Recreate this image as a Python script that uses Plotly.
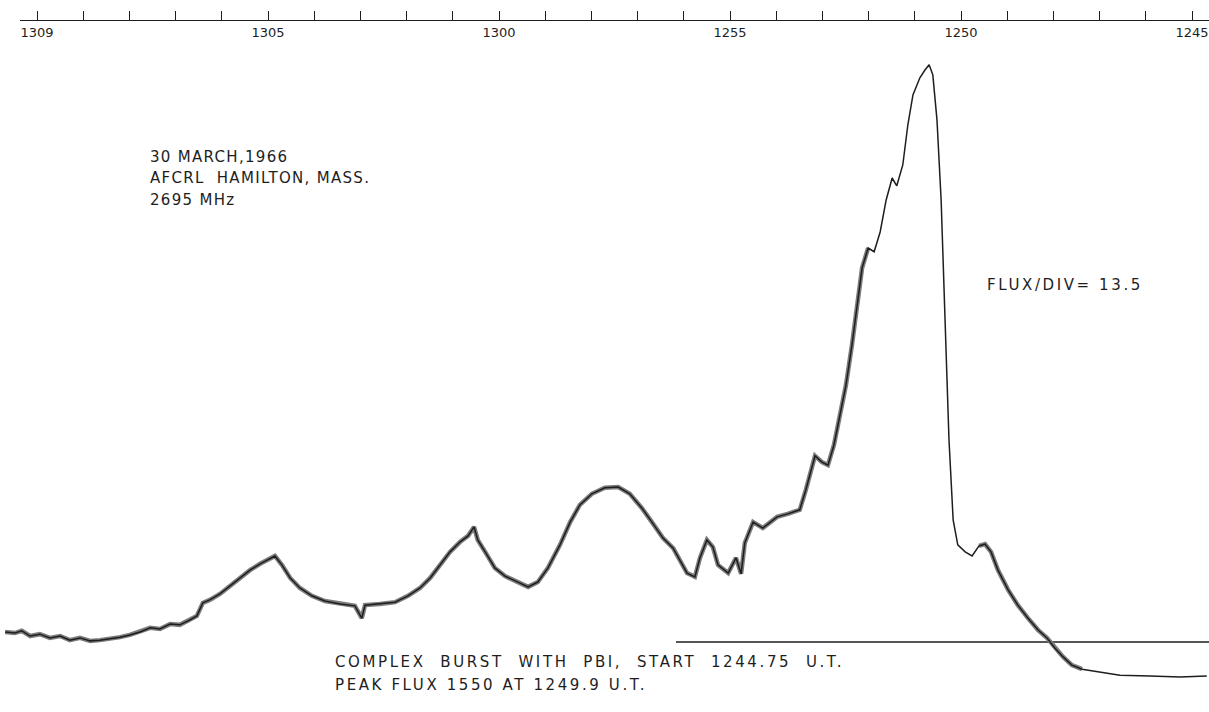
import plotly.graph_objects as go

W, H = 1209, 712

# ---- data (time in minutes after 12:00 UT as read on the chart scale, flux in s.f.u.) ----
time_min = [70.69, 70.48, 70.33, 70.15, 69.94, 69.72, 69.50, 69.29, 69.07, 68.85,
            68.64, 68.42, 68.20, 67.99, 67.77, 67.55, 67.34, 67.12, 66.91, 66.69,
            66.54, 66.41, 66.26, 66.04, 65.82, 65.61, 65.39, 65.17, 65.00, 64.85,
            64.70, 64.52, 64.31, 64.05, 63.77, 63.44, 63.12, 62.97, 62.90, 62.58,
            62.25, 61.97, 61.71, 61.49, 61.28, 61.06, 60.84, 60.67, 60.54, 60.46,
            60.30, 60.09, 59.87, 59.65, 59.37, 59.16, 58.94, 58.68, 58.46, 58.25,
            57.99, 57.71, 57.42, 57.17, 56.91, 56.69, 56.45, 56.23, 56.08, 55.93,
            55.76, 55.65, 55.50, 55.37, 55.26, 55.04, 54.87, 54.76, 54.68, 54.50,
            54.29, 53.98, 53.75, 53.49, 53.36, 53.25, 53.16, 53.01, 52.88, 52.75,
            52.62, 52.49, 52.36, 52.25, 52.14, 52.01, 51.88, 51.75, 51.62, 51.49,
            51.39, 51.26, 51.15, 51.04, 50.89, 50.78, 50.69, 50.61, 50.52, 50.43,
            50.35, 50.26, 50.17, 50.07, 49.91, 49.76, 49.61, 49.48, 49.35, 49.20,
            48.98, 48.77, 48.55, 48.33, 48.14, 47.97, 47.79, 47.60, 47.38, 46.99,
            46.56, 45.91, 45.26, 44.68]
flux = [27, 24, 30, 16, 21, 11, 16, 5, 11, 3,
        5, 8, 13, 19, 27, 38, 35, 48, 46, 59,
        70, 105, 113, 129, 150, 172, 193, 210, 220, 231,
        207, 172, 145, 124, 110, 102, 97, 64, 99, 102,
        107, 124, 145, 172, 207, 242, 269, 285, 309, 274,
        242, 199, 177, 164, 148, 161, 199, 261, 322, 368,
        398, 414, 416, 398, 360, 322, 279, 252, 220, 185,
        175, 226, 274, 255, 207, 185, 226, 183, 266, 322,
        306, 336, 344, 355, 408, 462, 500, 483, 475, 529,
        610, 690, 798, 905, 1005, 1058, 1048, 1101, 1187, 1246,
        1225, 1281, 1389, 1469, 1515, 1536, 1550, 1523, 1402, 1187,
        865, 543, 328, 261, 242, 231, 258, 263, 242, 193,
        140, 99, 64, 32, 11, -16, -40, -62, -73, -81,
        -89, -91, -94, -91]

# reference level line
ref_time = [56.17, 44.63]
ref_flux = [0, 0]

# time-axis ticks (one per minute) and the labels printed on the chart
tick_minutes = [70, 69, 68, 67, 66, 65, 64, 63, 62, 61, 60, 59, 58, 57, 56,
                55, 54, 53, 52, 51, 50, 49, 48, 47, 46, 45]
tick_text = ["1309", "", "", "", "", "1305", "", "", "", "", "1300", "", "", "", "",
             "1255", "", "", "", "", "1250", "", "", "", "", "1245"]

title_lines = ["30 MARCH,1966", "AFCRL  HAMILTON, MASS.", "2695 MHz"]
flux_note = "FLUX/DIV= 13.5"
caption_lines = ["COMPLEX  BURST  WITH  PBI,  START  1244.75  U.T.",
                 "PEAK FLUX 1550 AT 1249.9 U.T."]

# ---- figure ----
INK = "#1e1e1e"
FONT = "DejaVu Sans"

# the noisy (grey-banded) stretches of the pen trace: before the main rise and in the decay
n1 = 96
n2a, n2b = 116, 129
band_t = time_min[:n1] + [None] + time_min[n2a:n2b]
band_f = flux[:n1] + [None] + flux[n2a:n2b]

fig = go.Figure()
fig.add_trace(go.Scatter(x=ref_time, y=ref_flux, mode="lines",
                         line=dict(color=INK, width=1.3), hoverinfo="skip"))
fig.add_trace(go.Scatter(x=band_t, y=band_f, mode="lines", connectgaps=False,
                         line=dict(color="#7d7d7d", width=4.5), hoverinfo="skip"))
fig.add_trace(go.Scatter(x=time_min, y=flux, mode="lines",
                         line=dict(color=INK, width=1.5), hoverinfo="skip"))
fig.add_trace(go.Scatter(x=[60], y=[0], xaxis="x2", yaxis="y", mode="markers",
                         marker=dict(opacity=0), hoverinfo="skip"))

x_left, x_right = 70.801, 44.632
ax2_left_px = 20
ax2_start = 70.368

fig.update_layout(
    width=W, height=H,
    margin=dict(l=0, r=0, t=0, b=0),
    paper_bgcolor="white", plot_bgcolor="rgba(0,0,0,0)",
    showlegend=False,
    xaxis=dict(range=[x_left, x_right], visible=False, fixedrange=True),
    yaxis=dict(range=[-188, 1724], visible=False, fixedrange=True),
    xaxis2=dict(
        domain=[ax2_left_px / W, 1], range=[ax2_start, x_right],
        anchor="free", position=1 - 20 / H, side="bottom",
        showline=True, linecolor=INK, linewidth=1.3,
        ticks="inside", ticklen=9, tickwidth=1.3, tickcolor=INK,
        tickvals=tick_minutes, ticktext=tick_text,
        tickfont=dict(family=FONT, size=13, color=INK),
        showgrid=False, zeroline=False, fixedrange=True,
    ),
)

def spaced(t, ls):
    return '<span style="letter-spacing:%.1fpx">%s</span>' % (ls, t)

ann = []
for i, t in enumerate(title_lines):
    ann.append(dict(text=spaced(t, 1.3), x=148 / W, y=1 - (157 + 21.5 * i) / H))
ann.append(dict(text=spaced(flux_note, 2.6), x=985 / W, y=1 - 285 / H))
ann.append(dict(text=spaced(caption_lines[0], 2.6), x=333 / W, y=1 - 662 / H))
ann.append(dict(text=spaced(caption_lines[1], 2.6), x=333 / W, y=1 - 685 / H))
for a in ann:
    a.update(xref="paper", yref="paper", xanchor="left", yanchor="middle",
             showarrow=False, font=dict(family=FONT, size=15, color=INK))
fig.update_layout(annotations=ann)

fig.write_html("out.html")
